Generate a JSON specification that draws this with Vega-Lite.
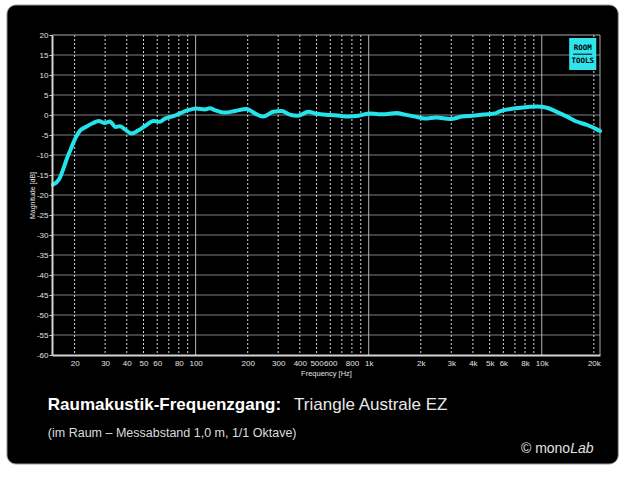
{
  "$schema": "https://vega.github.io/schema/vega-lite/v6.json",
  "width": 548,
  "height": 320,
  "autosize": {"type": "none"},
  "padding": {"left": 52, "top": 35, "right": 40, "bottom": 122},
  "background": "white",
  "config": {"view": {"stroke": null}, "font": "Liberation Sans", "axis": {"labelOverlap": false}, "locale": {"number": {"decimal": ".", "thousands": ",", "grouping": [3], "currency": ["", ""], "minus": "-"}}},
  "datasets": {
    "curve": [
      {"freq": 15, "db": -17.4}, {"freq": 16.3, "db": -16.0}, {"freq": 17.2, "db": -13.5}, {"freq": 17.9, "db": -11.3},
      {"freq": 19.1, "db": -8.3}, {"freq": 20.1, "db": -6.0}, {"freq": 21.4, "db": -4.0}, {"freq": 23.2, "db": -3.0},
      {"freq": 25.6, "db": -2.0}, {"freq": 27.5, "db": -1.5}, {"freq": 29.9, "db": -2.0}, {"freq": 31.9, "db": -1.6},
      {"freq": 34.5, "db": -3.0}, {"freq": 36.5, "db": -2.8}, {"freq": 39, "db": -3.6}, {"freq": 42.6, "db": -4.6},
      {"freq": 46.5, "db": -3.9}, {"freq": 52, "db": -2.5}, {"freq": 56.9, "db": -1.5}, {"freq": 62.1, "db": -1.7},
      {"freq": 66.4, "db": -0.9}, {"freq": 74.2, "db": -0.3}, {"freq": 83, "db": 0.6}, {"freq": 90.6, "db": 1.2},
      {"freq": 101, "db": 1.6}, {"freq": 113, "db": 1.4}, {"freq": 121, "db": 1.7}, {"freq": 129, "db": 1.2},
      {"freq": 148, "db": 0.6}, {"freq": 169, "db": 1.0}, {"freq": 197, "db": 1.5}, {"freq": 220, "db": 0.4},
      {"freq": 246, "db": -0.4}, {"freq": 281, "db": 0.8}, {"freq": 314, "db": 1.0}, {"freq": 350, "db": 0.1},
      {"freq": 390, "db": -0.2}, {"freq": 448, "db": 0.8}, {"freq": 500, "db": 0.3}, {"freq": 598, "db": 0.0},
      {"freq": 683, "db": -0.2}, {"freq": 762, "db": -0.4}, {"freq": 871, "db": -0.2}, {"freq": 1016, "db": 0.4},
      {"freq": 1135, "db": 0.2}, {"freq": 1245, "db": 0.2}, {"freq": 1452, "db": 0.5}, {"freq": 1620, "db": 0.1},
      {"freq": 1855, "db": -0.4}, {"freq": 2120, "db": -0.9}, {"freq": 2450, "db": -0.6}, {"freq": 2960, "db": -1.0},
      {"freq": 3470, "db": -0.4}, {"freq": 3960, "db": -0.2}, {"freq": 4600, "db": 0.1}, {"freq": 5380, "db": 0.4},
      {"freq": 5720, "db": 0.9}, {"freq": 6850, "db": 1.6}, {"freq": 7830, "db": 1.9}, {"freq": 9370, "db": 2.1},
      {"freq": 10700, "db": 1.8}, {"freq": 12200, "db": 0.8}, {"freq": 14000, "db": -0.4}, {"freq": 15600, "db": -1.5},
      {"freq": 18300, "db": -2.5}, {"freq": 20800, "db": -3.6}, {"freq": 21700, "db": -4.0}
    ],
    "hgrid": [
      {"db": -55}, {"db": -50}, {"db": -45}, {"db": -40}, {"db": -35}, {"db": -30}, {"db": -25},
      {"db": -20}, {"db": -15}, {"db": -10}, {"db": -5}, {"db": 0}, {"db": 5}, {"db": 10}, {"db": 15}
    ],
    "vminor": [
      {"freq": 20}, {"freq": 30}, {"freq": 40}, {"freq": 50}, {"freq": 60}, {"freq": 70}, {"freq": 80}, {"freq": 90},
      {"freq": 200}, {"freq": 300}, {"freq": 400}, {"freq": 500}, {"freq": 600}, {"freq": 700}, {"freq": 800}, {"freq": 900},
      {"freq": 2000}, {"freq": 3000}, {"freq": 4000}, {"freq": 5000}, {"freq": 6000}, {"freq": 7000}, {"freq": 8000}, {"freq": 9000},
      {"freq": 20000}
    ],
    "vmajor": [{"freq": 100}, {"freq": 1000}, {"freq": 10000}]
  },
  "layer": [
    {
      "data": {"values": [{}]},
      "mark": {"type": "rect", "color": "black", "cornerRadius": 9, "stroke": "#9a9a9a", "strokeWidth": 1},
      "encoding": {
        "x": {"datum": 8.13, "type": "quantitative", "scale": {"type": "log", "domain": [14.8, 21700], "nice": false}},
        "x2": {"datum": 27660},
        "y": {"datum": 27.5, "type": "quantitative", "scale": {"domain": [-60, 20], "nice": false, "zero": false}},
        "y2": {"datum": -87.25}
      }
    },
    {
      "data": {"name": "hgrid"},
      "mark": {"type": "rule", "color": "#808080", "strokeWidth": 1},
      "encoding": {"y": {"field": "db", "type": "quantitative"}}
    },
    {
      "data": {"name": "vminor"},
      "mark": {"type": "rule", "color": "#d8d8d8", "strokeWidth": 1, "strokeDash": [2, 2]},
      "encoding": {"x": {"field": "freq", "type": "quantitative"}}
    },
    {
      "data": {"name": "vmajor"},
      "mark": {"type": "rule", "color": "#b4b4b4", "strokeWidth": 1},
      "encoding": {"x": {"field": "freq", "type": "quantitative"}}
    },
    {
      "data": {"values": [{}]},
      "mark": {"type": "rule", "color": "#a8a8a8", "strokeWidth": 1},
      "encoding": {"y": {"datum": 20, "type": "quantitative"}}
    },
    {
      "data": {"values": [{}]},
      "mark": {"type": "rule", "color": "#a8a8a8", "strokeWidth": 1},
      "encoding": {"x": {"datum": 21700, "type": "quantitative"}}
    },
    {
      "data": {"name": "curve"},
      "mark": {"type": "line", "color": "#22e4ea", "strokeWidth": 4, "interpolate": "monotone", "strokeCap": "round", "strokeJoin": "round"},
      "encoding": {
        "x": {
          "field": "freq", "type": "quantitative",
          "scale": {"type": "log", "domain": [14.8, 21700], "nice": false},
          "axis": {
            "title": "Frequency [Hz]",
            "values": [20, 30, 40, 50, 60, 70, 80, 90, 100, 200, 300, 400, 500, 600, 700, 800, 900, 1000, 2000, 3000, 4000, 5000, 6000, 7000, 8000, 9000, 10000, 20000],
            "labelExpr": "indexof([70, 90, 700, 900, 7000, 9000], datum.value) >= 0 ? '' : (datum.value >= 1000 ? (datum.value / 1000) + 'k' : '' + datum.value)",
            "grid": false, "ticks": false,
            "domainColor": "#d4d4d4", "domainWidth": 2,
            "labelColor": "#e0e0e0", "labelFontSize": 8, "labelPadding": 4,
            "labelOverlap": false, "labelFlush": false, "labelBound": false,
            "titleColor": "#e0e0e0", "titleFontSize": 7.5, "titleFontWeight": "normal", "titlePadding": 2,
            "zindex": 1
          }
        },
        "y": {
          "field": "db", "type": "quantitative",
          "scale": {"domain": [-60, 20], "nice": false, "zero": false},
          "axis": {
            "title": "Magnitude [dB]",
            "values": [-60, -55, -50, -45, -40, -35, -30, -25, -20, -15, -10, -5, 0, 5, 10, 15, 20],
            "tickCount": 17,
            "format": "d",
            "grid": false, "tickSize": 3, "tickColor": "#d4d4d4",
            "domainColor": "#d4d4d4", "domainWidth": 2,
            "labelColor": "#e0e0e0", "labelFontSize": 8, "labelPadding": 1,
            "labelOverlap": false, "labelFlush": false, "labelBound": false,
            "titleColor": "#e0e0e0", "titleFontSize": 7, "titleFontWeight": "normal", "titlePadding": 1,
            "zindex": 1
          }
        }
      }
    },
    {
      "data": {"values": [{}]},
      "mark": {"type": "rect", "color": "#30e4ec"},
      "encoding": {
        "x": {"datum": 14400, "type": "quantitative"},
        "x2": {"datum": 20650},
        "y": {"datum": 19.25, "type": "quantitative"},
        "y2": {"datum": 11.25}
      }
    },
    {
      "data": {"values": [{}]},
      "mark": {"type": "rule", "color": "black", "strokeWidth": 1},
      "encoding": {
        "x": {"datum": 15200, "type": "quantitative"},
        "x2": {"datum": 19570},
        "y": {"datum": 15.2, "type": "quantitative"}
      }
    },
    {
      "data": {"values": [{"label": "ROOM"}]},
      "mark": {"type": "text", "align": "center", "baseline": "middle", "font": "DejaVu Sans Mono", "fontWeight": "bold", "fontSize": 7.5, "color": "black"},
      "encoding": {
        "text": {"field": "label"},
        "x": {"datum": 17250, "type": "quantitative"},
        "y": {"datum": 16.7, "type": "quantitative"}
      }
    },
    {
      "data": {"values": [{"label": "TOOLS"}]},
      "mark": {"type": "text", "align": "center", "baseline": "middle", "font": "DejaVu Sans Mono", "fontWeight": "bold", "fontSize": 7.5, "color": "black"},
      "encoding": {
        "text": {"field": "label"},
        "x": {"datum": 17250, "type": "quantitative"},
        "y": {"datum": 13.6, "type": "quantitative"}
      }
    },
    {
      "data": {"values": [{"label": "Raumakustik-Frequenzgang:"}]},
      "mark": {"type": "text", "align": "left", "baseline": "alphabetic", "fontSize": 17, "fontWeight": "bold", "color": "white", "font": "Liberation Sans"},
      "encoding": {
        "text": {"field": "label"},
        "x": {"datum": 14.0, "type": "quantitative"},
        "y": {"datum": -73.75, "type": "quantitative"}
      }
    },
    {
      "data": {"values": [{"label": "Triangle Australe EZ"}]},
      "mark": {"type": "text", "align": "left", "baseline": "alphabetic", "fontSize": 17, "color": "#e8e8e8", "font": "Liberation Sans"},
      "encoding": {
        "text": {"field": "label"},
        "x": {"datum": 370.8, "type": "quantitative"},
        "y": {"datum": -73.75, "type": "quantitative"}
      }
    },
    {
      "data": {"values": [{"label": "(im Raum – Messabstand 1,0 m, 1/1 Oktave)"}]},
      "mark": {"type": "text", "align": "left", "baseline": "alphabetic", "fontSize": 12.5, "color": "#dcdcdc", "font": "Liberation Sans"},
      "encoding": {
        "text": {"field": "label"},
        "x": {"datum": 14.0, "type": "quantitative"},
        "y": {"datum": -80.5, "type": "quantitative"}
      }
    },
    {
      "data": {"values": [{"label": "© mono"}]},
      "mark": {"type": "text", "align": "right", "baseline": "alphabetic", "fontSize": 14, "color": "#e0e0e0", "font": "Liberation Sans"},
      "encoding": {
        "text": {"field": "label"},
        "x": {"datum": 14590, "type": "quantitative"},
        "y": {"datum": -84.5, "type": "quantitative"}
      }
    },
    {
      "data": {"values": [{"label": "Lab"}]},
      "mark": {"type": "text", "align": "left", "baseline": "alphabetic", "fontSize": 14, "fontStyle": "italic", "color": "#e0e0e0", "font": "Liberation Sans"},
      "encoding": {
        "text": {"field": "label"},
        "x": {"datum": 14590, "type": "quantitative"},
        "y": {"datum": -84.5, "type": "quantitative"}
      }
    }
  ]
}
